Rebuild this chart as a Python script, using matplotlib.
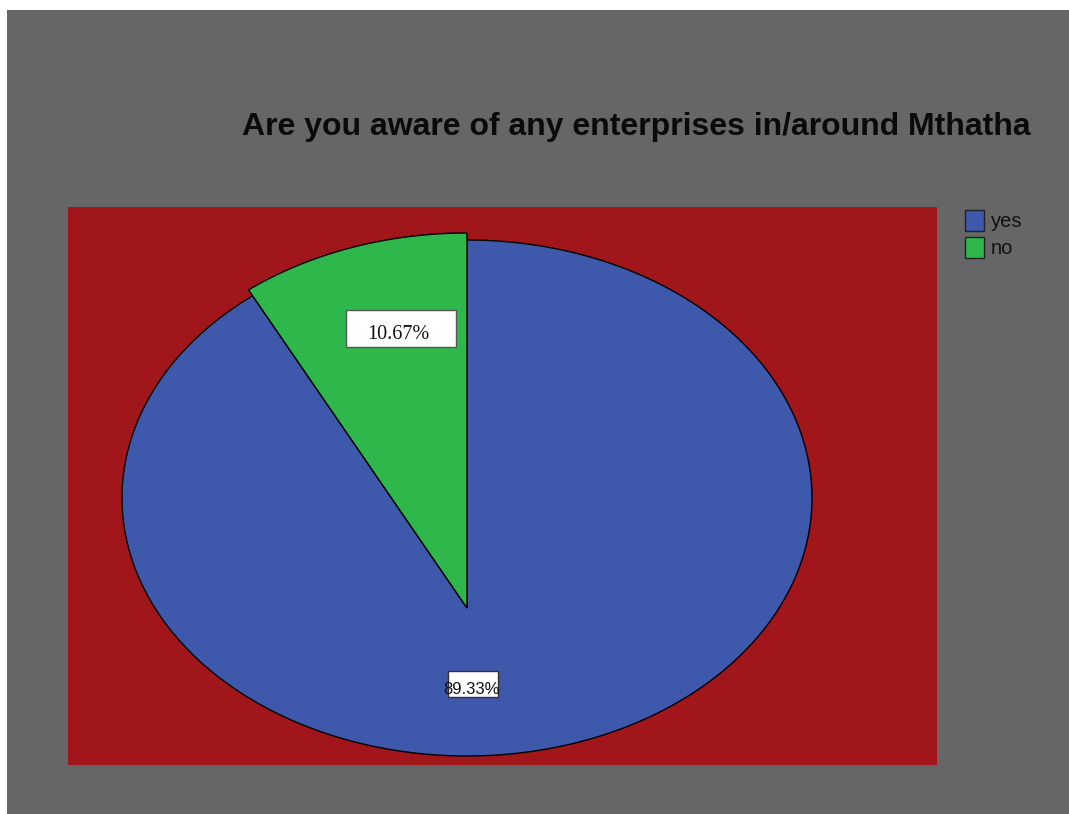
import numpy as np
import matplotlib
matplotlib.use("Agg")
import matplotlib.pyplot as plt
from matplotlib.patches import Polygon, Rectangle, Patch

# Survey responses
categories = ["yes", "no"]
percentages = [89.33, 10.67]
title = "Are you aware of any enterprises in/around Mthatha"

colors = ["#3E58AB", "#2EB84B"]
bg_gray = "#666666"
plot_red = "#A0161A"

W, H = 1069, 814
fig = plt.figure(figsize=(W / 100, H / 100), dpi=100, facecolor="white")
fig.patches.append(Rectangle((7 / W, 0), 1 - 7 / W, 1 - 10 / H,
                             transform=fig.transFigure, facecolor=bg_gray,
                             edgecolor="none", zorder=-10))

ax = fig.add_axes([68 / W, 1 - 765 / H, (937 - 68) / W, (765 - 207) / H])
ax.set_zorder(1)
ax.set_facecolor(plot_red)
for s in ax.spines.values():
    s.set_visible(False)
ax.set_xticks([])
ax.set_yticks([])

# pie geometry in pixels: ellipse centre and radii
cx, cy, rx, ry = 467, 498, 345, 258


def to_data(px, py):
    return (px - cx) / rx, (cy - py) / ry


ax.set_xlim(to_data(68, 0)[0], to_data(937, 0)[0])
ax.set_ylim(to_data(0, 765)[1], to_data(0, 207)[1])

apex = np.array(to_data(cx, 608))
# the "no" slice is pulled out: enlarged about the apex
grow = [1.0, (608 - 233) / (608 - 240)]

cum = 0.0
handles = []
for cat, val, col, g in zip(categories, percentages, colors, grow):
    t0 = 90 - 360 * cum / 100
    t1 = 90 - 360 * (cum + val) / 100
    t = np.radians(np.linspace(t0, t1, 400))
    arc = np.column_stack([np.cos(t), np.sin(t)])
    arc = apex + (arc - apex) * g
    pts = np.vstack([apex, arc])
    ax.add_patch(Polygon(pts, closed=True, facecolor=col, edgecolor="black",
                         linewidth=1.0, zorder=2))
    handles.append(Patch(facecolor=col, edgecolor="#222222", linewidth=1.0, label=cat))
    cum += val

# value labels
labels = {c: f"{v:.2f}%" for c, v in zip(categories, percentages)}

# "no" label: serif text in a white box, clipped by the box
x0, y0 = to_data(346, 347)
x1, y1 = to_data(456, 310)
ax.add_patch(Rectangle((x0, y0), x1 - x0, y1 - y0, facecolor="white",
                       edgecolor="#555555", linewidth=1.0, zorder=3))
clip_y = to_data(0, 338)[1]
clip = Rectangle((x0, clip_y), x1 - x0, y1 - clip_y, transform=ax.transData)
tx, ty = to_data(398, 339)
txt = ax.text(tx, ty, labels["no"], ha="center", va="baseline", fontsize=14.5,
              family="Liberation Serif", color="#111111", zorder=4)
txt.set_clip_path(clip)

# "yes" label
x0, y0 = to_data(448, 697)
x1, y1 = to_data(498, 671)
ax.add_patch(Rectangle((x0, y0), x1 - x0, y1 - y0, facecolor="white",
                       edgecolor="#333333", linewidth=1.0, zorder=3))
tx, ty = to_data(471, 690)
ax.text(tx, ty, labels["yes"], ha="center", va="center", fontsize=12,
        family="Liberation Sans", color="#111111", zorder=4)

fig.text(636 / W, 1 - 127 / H, title, ha="center", va="center", fontsize=23,
         fontweight="bold", family="Liberation Sans", color="#0a0a0a")

ax.legend(handles=handles, loc="upper left", bbox_to_anchor=(965 / W, 1 - 210 / H),
          bbox_transform=fig.transFigure, frameon=False,
          prop={"family": "Liberation Sans", "size": 14.5},
          handlelength=0.95, handleheight=1.2, handletextpad=0.35,
          labelspacing=0.3, borderaxespad=0, borderpad=0, labelcolor="#111111")

fig.savefig("out.png", dpi=100, facecolor="white")
